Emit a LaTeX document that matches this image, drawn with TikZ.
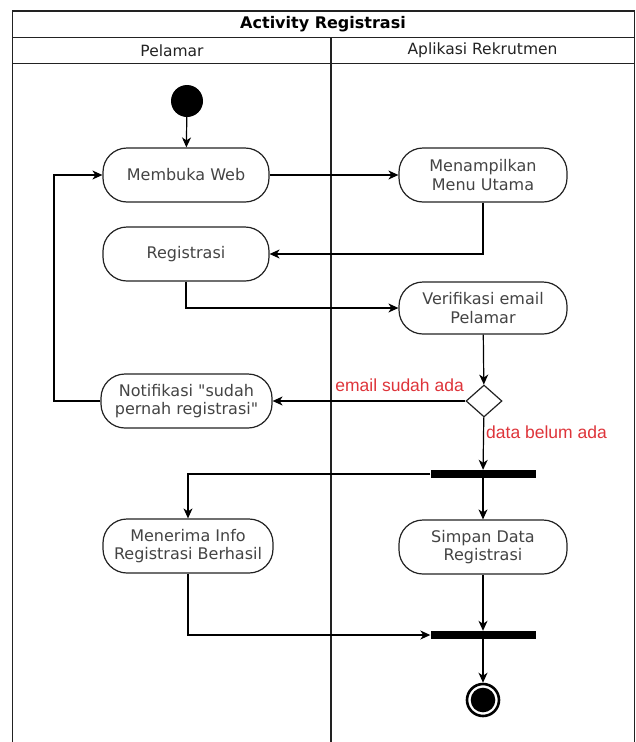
\documentclass[tikz,border=0pt]{standalone}
\usepackage{fontspec}
\setmainfont{DejaVu Sans}[Ligatures=TeXOff]
\newfontfamily\labelfont{Liberation Sans}
\usetikzlibrary{arrows.meta,shapes.geometric}
\definecolor{guard}{RGB}{222,52,58}
\definecolor{ink}{RGB}{68,68,68}
\definecolor{edge}{RGB}{34,34,34}

\begin{document}
\begin{tikzpicture}[x=1pt,y=-1pt,
  act/.style={draw=edge, line width=1.2pt, rounded corners=24pt, fill=white,
    minimum width=166pt, minimum height=54pt, align=center, inner sep=2pt,
    text=ink, font=\fontsize{16}{18.5}\selectfont},
  flow/.style={draw=black, line width=1.2pt,
    -{Stealth[length=10pt,width=9pt,inset=3pt]}},
  bar/.style={fill=black, draw=none, minimum width=105pt, minimum height=8pt, inner sep=0},
  guardlabel/.style={text=guard, font=\labelfont\fontsize{17.5}{20}\selectfont, inner sep=0},
  lane/.style={draw=edge, line width=1.4pt},
  head/.style={text=edge, inner sep=0, font=\fontsize{15.5}{18}\selectfont}]

\useasboundingbox (0,0) rectangle (636,742);

% swimlane frame
\draw[lane] (12.5,742) -- (12.5,11) -- (634.5,11) -- (634.5,742);
\draw[lane] (12.5,37.5) -- (634.5,37.5);
\draw[lane] (12.5,63.5) -- (634.5,63.5);
\draw[lane] (331,37.5) -- (331,742);

\node[inner sep=0, text=black, font=\bfseries\fontsize{16}{19}\selectfont] (title) at (323,24) {Activity Registrasi};
\node[head] (laneA) at (172,50.5) {Pelamar};
\node[head] (laneB) at (482.5,50.5) {Aplikasi Rekrutmen};

% activities
\node[circle, fill=black, minimum size=32pt, inner sep=0] (start) at (187,101) {};
\node[act] (web) at (186,175) {Membuka Web};
\node[act, minimum width=168pt] (menu) at (483,175) {Menampilkan\\Menu Utama};
\node[act] (reg) at (186,254) {Registrasi};
\node[act, minimum width=168pt, minimum height=52pt] (verif) at (483,308) {Verifikasi email\\Pelamar};
\node[diamond, draw=edge, line width=1.2pt, fill=white, minimum width=36pt, minimum height=32pt, inner sep=0] (dec) at (484,401) {};
\node[act, minimum width=171pt] (notif) at (186.5,401) {Notifikasi "sudah\\pernah registrasi"};
\node[bar] (fork) at (483,474) {};
\node[act, minimum width=170pt] (recv) at (188,546) {Menerima Info\\Registrasi Berhasil};
\node[act, minimum width=168pt] (save) at (483,547) {Simpan Data\\Registrasi};
\node[bar] (join) at (483,635) {};
\node[circle, draw=black, line width=2.6pt, fill=white, minimum size=32pt, inner sep=0] (end) at (483,700) {};
\fill[black] (end.center) circle (12.3pt);

\coordinate (loop) at (54,401);

% guard labels
\node[guardlabel, anchor=east] (gYes) at (464,385) {email sudah ada};
\node[guardlabel, anchor=west] (gNo) at (486,432) {data belum ada};

% control flow
\draw[flow] (start) -- (web);
\draw[flow] (web) -- (menu);
\draw[flow] (menu.south) |- (reg.east);
\draw[flow] (reg.south) |- (verif.west);
\draw[flow] (verif) -- (dec);
\draw[flow] (dec) -- (notif);
\draw[flow] (notif.west) -- (loop) |- (web.west);
\draw[flow] (dec) -- (fork);
\draw[flow] (fork.west) -| (recv.north);
\draw[flow] (fork) -- (save);
\draw[flow] (save) -- (join);
\draw[flow] (recv.south) |- (join.west);
\draw[flow] (join) -- (end);
\end{tikzpicture}
\end{document}
